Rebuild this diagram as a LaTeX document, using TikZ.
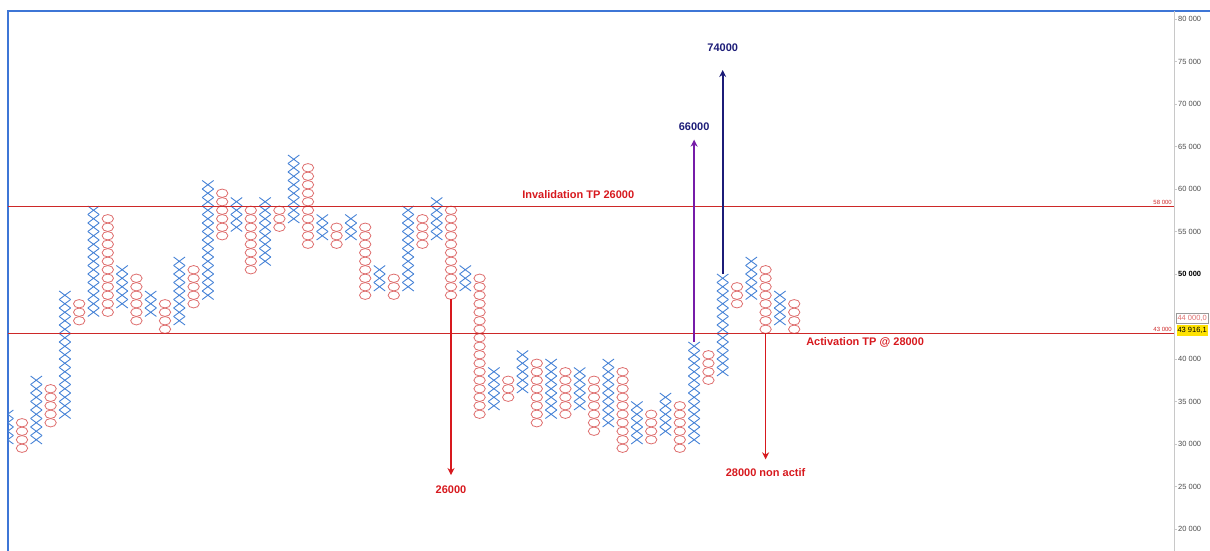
\documentclass[tikz,border=0pt]{standalone}
\usepackage{fontspec}
\setmainfont{Liberation Sans}
\usetikzlibrary{arrows.meta, positioning}

\definecolor{xblue}{RGB}{70,130,214}
\definecolor{ored}{RGB}{222,110,110}
\definecolor{lred}{RGB}{205,40,40}
\definecolor{tred}{RGB}{215,25,30}
\definecolor{tnavy}{RGB}{28,28,120}
\definecolor{tpurple}{RGB}{118,28,168}
\definecolor{fblue}{RGB}{62,118,214}
\definecolor{agray}{RGB}{200,200,200}

\begin{document}
\begin{tikzpicture}[
      > = {Stealth[length=7pt, width=7pt]}, % arrow head style
      x = 1pt, y = 1pt,                     % one pixel per point
      font = \sffamily
    ]

    \tikzstyle{Xm}=[      % Defines style for X boxes
      draw = xblue,
      line width = 0.9pt
    ]

    \tikzstyle{Om}=[      % Defines style for O boxes
      draw = ored,
      line width = 0.8pt
    ]

    \tikzstyle{L1}=[      % Defines style for level lines
      draw = lred,
      line width = 0.8pt
    ]

    \tikzstyle{T1}=[      % Defines style for bold labels
      inner sep = 0pt,
      font = \fontsize{11}{13}\selectfont\bfseries
    ]

    \tikzstyle{A1}=[      % Defines style for target arrows
      ->,
      line width = 1.7pt
    ]

    \tikzstyle{K1}=[      % Defines style for axis labels
      inner sep = 0pt,
      text = black!70,
      font = \fontsize{7.5}{9}\selectfont
    ]

    \useasboundingbox (0,0) rectangle (1210,551);

    % Frame and price axis
    \draw[fblue, line width = 2pt] (8,0) -- (8,540) -- (1210,540);
    \draw[agray, line width = 0.8pt] (1174,0) -- (1174,540);

    % Chart: one unit = one column wide, one box (1000) high
    \begin{scope}[x = 14.3pt, y = 8.5pt, xshift = 7.7pt, yshift = -148pt]

    \begin{scope}
    \clip (0.03,0) rectangle (81.5,80);
    % X columns: column/low/high
    \foreach \i/\lo/\hi in {0/30/34, 2/30/38, 4/33/48, 6/45/58, 8/46/51,
        10/45/48, 12/44/52, 14/47/61, 16/55/59, 18/51/59, 20/56/64,
        22/54/57, 24/54/57, 26/48/51, 28/48/58, 30/54/59, 32/48/51,
        34/34/39, 36/36/41, 38/33/40, 40/34/39, 42/32/40, 44/30/35,
        46/31/36, 48/30/42, 50/38/50, 52/47/52, 54/44/48} {
      \pgfmathtruncatemacro{\kmax}{\hi-1}
      \foreach \k in {\lo,...,\kmax}
        \draw[Xm] (\i-0.4,\k) -- (\i+0.4,\k+1) (\i-0.4,\k+1) -- (\i+0.4,\k);
    }
    % O columns: column/low/high
    \foreach \i/\lo/\hi in {1/29/33, 3/32/37, 5/44/47, 7/45/57, 9/44/50,
        11/43/47, 13/46/51, 15/54/60, 17/50/58, 19/55/58, 21/53/63,
        23/53/56, 25/47/56, 27/47/50, 29/53/57, 31/47/58, 33/33/50,
        35/35/38, 37/32/40, 39/33/39, 41/31/38, 43/29/39, 45/30/34,
        47/29/35, 49/37/41, 51/46/49, 53/43/51, 55/43/47} {
      \pgfmathtruncatemacro{\kmax}{\hi-1}
      \foreach \k in {\lo,...,\kmax}
        \draw[Om] (\i,\k+0.5) ellipse [x radius = 5.7pt, y radius = 4.2pt];
    }
    \end{scope}

    % Level lines
    \draw[L1] (0.03,58) -- (81.56,58);
    \draw[L1] (0.03,43) -- (81.56,43);
    \node[K1, text = lred, font = \fontsize{6}{7}\selectfont, anchor = south east]
      (m58) at (81.42,58.2) {58 000};
    \node[K1, text = lred, font = \fontsize{6}{7}\selectfont, anchor = south east]
      (m43) at (81.42,43.2) {43 000};

    % Axis ticks and labels
    \foreach \p in {20,25,30,35,40,55,60,65,70,75,80}
      \draw[agray] (81.56,\p) -- ++(3pt,0) node[K1, anchor = west, xshift = 1pt] (k\p) {\p~000};
    \draw[agray] (81.56,50) -- ++(3pt,0)
      node[K1, anchor = west, xshift = 1pt, text = black, font = \fontsize{7.5}{9}\selectfont\bfseries] (k50) {50~000};
    \node[K1, draw = black!40, fill = white, text = ored, anchor = west,
      minimum height = 10pt, inner sep = 1pt] (b44) at (81.72,44.8) {44 000,0};
    \node[K1, fill = yellow!85!orange, text = black, anchor = west,
      minimum height = 11pt, inner sep = 1pt] (b43) at (81.72,43.4) {43 916,1};

    % Texts on the chart
    \node[T1, text = tred, anchor = west] (inv) at (35.97,59.4) {Invalidation TP 26000};
    \node[T1, text = tred, anchor = west] (act) at (55.83,41.9) {Activation TP @ 28000};

    % Target arrows
    \coordinate (o31) at (31,47);
    \coordinate (tp26) at (31,26.35);
    \coordinate (o53) at (53,43);
    \coordinate (tp28) at (53,28.2);
    \coordinate (x48) at (48,42);
    \coordinate (tp66) at (48,65.8);
    \coordinate (x50) at (50,50);
    \coordinate (tp74) at (50,74);

    \draw[A1, tred] (o31) -- (tp26);
    \draw[A1, tred] (o53) -- (tp28);
    \draw[A1, tpurple] (x48) -- (tp66);
    \draw[A1, tnavy] (x50) -- (tp74);

    \node[T1, text = tred] (lbl26) [below = 11pt of tp26] {26000};
    \node[T1, text = tred] (lbl28) [below = 9pt of tp28] {28000 non actif};
    \node[T1, text = tnavy] (lbl66) [above = 9pt of tp66] {66000};
    \node[T1, text = tnavy] (lbl74) [above = 18pt of tp74] {74000};

    \end{scope}

\end{tikzpicture}
\end{document}
